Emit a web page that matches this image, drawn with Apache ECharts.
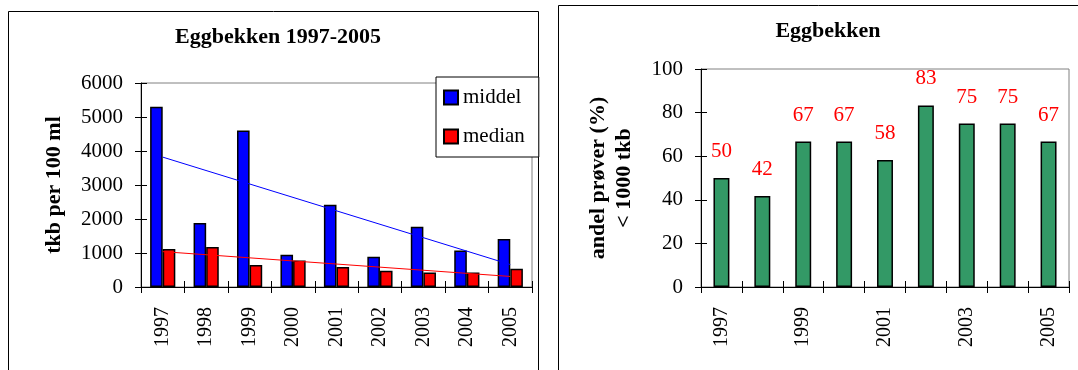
<!DOCTYPE html>
<html>
<head>
<meta charset="utf-8">
<script src="https://cdn.jsdelivr.net/npm/echarts@6/dist/echarts.min.js"></script>
<style>
  html, body { margin: 0; padding: 0; background: #fff; }
  #chart { width: 1078px; height: 370px; }
</style>
</head>
<body>
<div id="chart"></div>
<script>
const years = ['1997', '1998', '1999', '2000', '2001', '2002', '2003', '2004', '2005'];
// tkb per 100 ml
const middel = [5300, 1880, 4600, 950, 2420, 890, 1770, 1070, 1410];
const median = [1120, 1180, 650, 780, 590, 480, 430, 430, 540];
// trend lines, value at 1997 and at 2005
const trendMiddel = [3820, 660];
const trendMedian = [1040, 310];
// andel prøver < 1000 tkb (%)
const andel = [50, 41.7, 66.7, 66.7, 58.3, 83.3, 75, 75, 66.7];
const leftTicks = [0, 6000, 1000];
const rightTicks = [0, 100, 20];

const serif = '"Liberation Serif", "Times New Roman", serif';
const chart = echarts.init(document.getElementById('chart'));

const axisLine = { show: true, lineStyle: { color: '#000', width: 1 } };
const axisTick = { show: true, length: 6, lineStyle: { color: '#000' } };
const tickLabel = { fontFamily: serif, fontSize: 20, color: '#000' };
const barBorder = { borderColor: '#000', borderWidth: 1.5 };
const boldName = { fontFamily: serif, fontSize: 22, fontWeight: 'bold', color: '#000' };

// extra axes that only draw the inner half of the crossing ticks
const innerX = (gridIndex) => ({
  gridIndex, type: 'category', data: years, position: 'bottom',
  axisLine: { show: false }, axisLabel: { show: false },
  axisTick: { show: true, inside: true, length: 6, interval: 0, lineStyle: { color: '#000' } }
});
const innerY = (gridIndex, t) => ({
  gridIndex, type: 'value', position: 'left',
  min: t[0], max: t[1], interval: t[2],
  axisLine: { show: false }, axisLabel: { show: false }, splitLine: { show: false },
  axisTick: { show: true, inside: true, length: 6, lineStyle: { color: '#000' } }
});

const option = {
  backgroundColor: '#fff',
  animation: false,
  title: [
    {
      text: 'Eggbekken 1997-2005',
      left: 273, top: 21, textAlign: 'center',
      textStyle: { ...boldName }
    },
    {
      text: 'Eggbekken',
      left: 823, top: 15, textAlign: 'center',
      textStyle: { ...boldName }
    }
  ],
  legend: {
    data: ['middel', 'median'],
    orient: 'vertical',
    left: 436, top: 77,
    icon: 'rect',
    itemWidth: 14, itemHeight: 14, itemGap: 18,
    padding: [10, 14, 10, 7],
    backgroundColor: '#fff',
    borderColor: '#000', borderWidth: 1,
    textStyle: { fontFamily: serif, fontSize: 21, color: '#000' }
  },
  grid: [
    { left: 141, top: 83, width: 391, height: 204, show: true, borderColor: '#808080', borderWidth: 1 },
    { left: 701, top: 69, width: 368, height: 218, show: true, borderColor: '#808080', borderWidth: 1 }
  ],
  xAxis: [
    {
      gridIndex: 0, type: 'category', data: years, position: 'bottom',
      axisLine, axisTick: { ...axisTick, interval: 0 },
      axisLabel: { ...tickLabel, rotate: 90, interval: 0, margin: 20 }
    },
    {
      gridIndex: 1, type: 'category', data: years, position: 'bottom',
      axisLine, axisTick: { ...axisTick, interval: 0 },
      axisLabel: { ...tickLabel, rotate: 90, interval: 1, margin: 20 }
    },
    innerX(0),
    innerX(1)
  ],
  yAxis: [
    {
      gridIndex: 0, type: 'value', position: 'left',
      min: leftTicks[0], max: leftTicks[1], interval: leftTicks[2],
      axisLine, axisTick,
      splitLine: { show: false },
      axisLabel: { ...tickLabel, fontSize: 21, margin: 18, formatter: v => String(v) },
      name: 'tkb per 100 ml', nameLocation: 'middle', nameGap: 76,
      nameTextStyle: { ...boldName }
    },
    {
      gridIndex: 1, type: 'value', position: 'left',
      min: rightTicks[0], max: rightTicks[1], interval: rightTicks[2],
      axisLine, axisTick,
      splitLine: { show: false },
      axisLabel: { ...tickLabel, fontSize: 21, margin: 18 },
      name: 'andel prøver (%)\n< 1000 tkb', nameLocation: 'middle', nameGap: 64,
      nameTextStyle: { ...boldName, lineHeight: 26 }
    },
    innerY(0, leftTicks),
    innerY(1, rightTicks)
  ],
  series: [
    {
      name: 'middel', type: 'bar', xAxisIndex: 0, yAxisIndex: 0,
      data: middel, barGap: '0%', barCategoryGap: '42%',
      itemStyle: { color: '#0000ff', ...barBorder }
    },
    {
      name: 'median', type: 'bar', xAxisIndex: 0, yAxisIndex: 0,
      data: median,
      itemStyle: { color: '#ff0000', ...barBorder }
    },
    {
      name: 'trend middel', type: 'line', xAxisIndex: 0, yAxisIndex: 0,
      data: [[0, trendMiddel[0]], [years.length - 1, trendMiddel[1]]],
      showSymbol: false, z: 5,
      lineStyle: { color: '#0000ff', width: 1 }
    },
    {
      name: 'trend median', type: 'line', xAxisIndex: 0, yAxisIndex: 0,
      data: [[0, trendMedian[0]], [years.length - 1, trendMedian[1]]],
      showSymbol: false, z: 5,
      lineStyle: { color: '#ff0000', width: 1 }
    },
    {
      name: 'andel', type: 'bar', xAxisIndex: 1, yAxisIndex: 1,
      data: andel, barWidth: '39%',
      itemStyle: { color: '#339966', ...barBorder },
      label: {
        show: true, position: 'top', distance: 16,
        fontFamily: serif, fontSize: 21, color: '#ff0000',
        formatter: p => Math.round(p.value)
      }
    }
  ],
  graphic: [
    { type: 'rect', shape: { x: 8.5, y: 11.5, width: 530, height: 400 },
      style: { fill: null, stroke: '#000', lineWidth: 1 }, z: 0, silent: true },
    { type: 'rect', shape: { x: 558.5, y: 5.5, width: 600, height: 400 },
      style: { fill: null, stroke: '#000', lineWidth: 1 }, z: 0, silent: true }
  ]
};

chart.setOption(option);
</script>
</body>
</html>
